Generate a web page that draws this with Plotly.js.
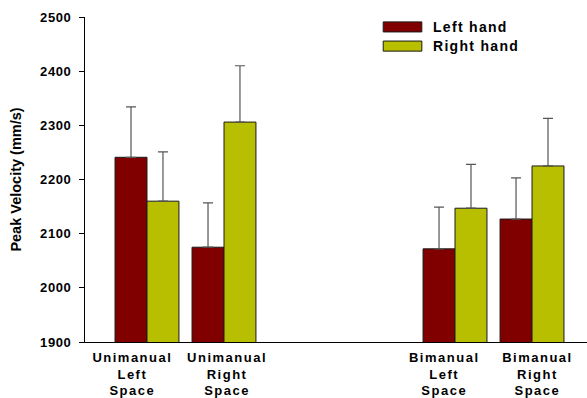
<!DOCTYPE html>
<html>
<head>
<meta charset="utf-8">
<script src="https://cdn.plot.ly/plotly-3.0.1.min.js"></script>
<style>
html,body{margin:0;padding:0;background:#fff;}
#chart{width:587px;height:398px;}
.xtick text{letter-spacing:1.5px;}
.ytick text{letter-spacing:0.6px;}
.annotation-text{letter-spacing:1.3px;}
</style>
</head>
<body>
<div id="chart"></div>
<script>
var categories = ["Unimanual<br>Left<br>Space", "Unimanual<br>Right<br>Space", "Bimanual<br>Left<br>Space", "Bimanual<br>Right<br>Space"];
var categoryPositions = [1, 2, 5, 6];
var seriesNames = ["Left hand", "Right hand"];
var seriesColors = ["#800000", "#b7bf00"];
var leftHand = [2241, 2075, 2072, 2127];
var leftHandErr = [93, 82, 77, 76];
var rightHand = [2160, 2306, 2147, 2225];
var rightHandErr = [91, 104, 81, 88];
var yTicks = [1900, 2000, 2100, 2200, 2300, 2400, 2500];
// the original's category labels sit slightly off the group centres
var labelShift = [-0.19, 0.04, -0.14, 0.07];

var fam = "Liberation Sans, Arial, sans-serif";
function bar(name, y, err, color) {
  return {
    type: "bar", name: name, x: categoryPositions, y: y,
    marker: {color: color, line: {color: "#1a1a1a", width: 1}},
    error_y: {type: "data", array: err, symmetric: false, arrayminus: err.map(function(){return 0;}),
              color: "#555", thickness: 1.2, width: 5},
    hoverinfo: "none", showlegend: false
  };
}
var data = [
  bar(seriesNames[0], leftHand, leftHandErr, seriesColors[0]),
  bar(seriesNames[1], rightHand, rightHandErr, seriesColors[1])
];

// custom legend (wide swatches like the original)
var shapes = [], annotations = [];
var legX0 = 0.594, legX1 = 0.671, legTextX = 0.69;
var rowTop = [0.985, 0.926], rowH = 0.031;
seriesNames.forEach(function(n, i) {
  shapes.push({type: "rect", xref: "paper", yref: "paper", x0: legX0, x1: legX1,
               y0: rowTop[i] - rowH, y1: rowTop[i], fillcolor: seriesColors[i],
               line: {color: "#1a1a1a", width: 1}});
  annotations.push({xref: "paper", yref: "paper", x: legTextX, y: rowTop[i] - rowH / 2,
                    xanchor: "left", yanchor: "middle", showarrow: false, text: n,
                    font: {family: fam, size: 14, color: "#000", weight: "bold"}});
});

var layout = {
  width: 587, height: 398,
  margin: {l: 85, r: 0, t: 17, b: 56},
  paper_bgcolor: "#fff", plot_bgcolor: "#fff",
  barmode: "group", bargap: 0.17, bargroupgap: 0,
  showlegend: false,
  shapes: shapes, annotations: annotations,
  xaxis: {range: [0.195, 6.714],
          tickvals: categoryPositions.map(function(p, i){ return p + labelShift[i]; }),
          ticktext: categories,
          showline: true, linecolor: "#000", linewidth: 1, ticks: "", showgrid: false, zeroline: false,
          ticklabelstandoff: 3,
          tickfont: {family: fam, size: 13, color: "#000", weight: "bold"}, fixedrange: true},
  yaxis: {range: [1900, 2500], tickvals: yTicks, ticks: "outside", ticklen: 5, tickcolor: "#000",
          showline: true, linecolor: "#000", linewidth: 1, showgrid: false, zeroline: false,
          ticklabelstandoff: 5,
          tickfont: {family: fam, size: 13, color: "#000", weight: "bold"},
          title: {text: "Peak Velocity (mm/s)", standoff: 14,
                  font: {family: fam, size: 14.5, color: "#000", weight: "bold"}}}
};
Plotly.newPlot("chart", data, layout, {displayModeBar: false, staticPlot: true});
</script>
</body>
</html>
